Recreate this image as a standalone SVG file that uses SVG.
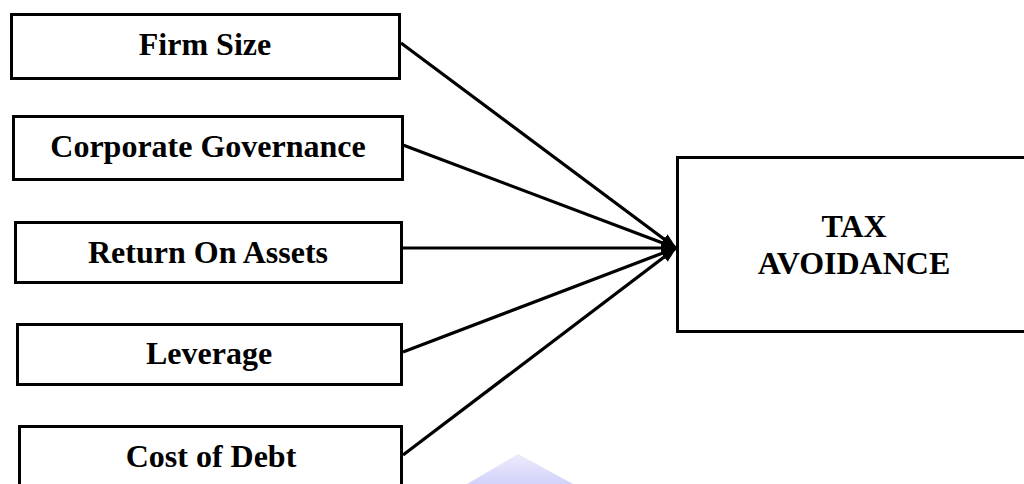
<svg xmlns="http://www.w3.org/2000/svg" width="1024" height="484" viewBox="0 0 1024 484">
<defs>
<style>
.box{fill:#fff;stroke:#000;stroke-width:3}
.lbl{font-family:"Liberation Serif","Times New Roman",serif;font-weight:bold;font-size:32px;fill:#000;text-anchor:middle}
.con{stroke:#000;stroke-width:3.2;fill:none;marker-end:url(#ah)}
</style>
<marker id="ah" markerWidth="16" markerHeight="12" refX="15" refY="6" orient="auto" markerUnits="userSpaceOnUse">
<path d="M0,0 L16,6 L0,12 z" fill="#000"/>
</marker>
<linearGradient id="wm" x1="0" y1="0" x2="0" y2="1">
<stop offset="0" stop-color="#ececfc"/>
<stop offset="1" stop-color="#d2d2fa"/>
</linearGradient>
</defs>
<rect width="1024" height="484" fill="#fff"/>
<polygon points="518,454 573,484 467,484" fill="url(#wm)"/>
<g id="connectors">
<line class="con" x1="401" y1="43" x2="676" y2="248"/>
<line class="con" x1="403" y1="145" x2="676" y2="248"/>
<line class="con" x1="403" y1="248" x2="676" y2="248"/>
<line class="con" x1="403" y1="352" x2="676" y2="248"/>
<line class="con" x1="403" y1="455" x2="676" y2="248"/>
</g>
<g id="firm-size">
<rect class="box" x="11.5" y="14.5" width="388" height="64"/>
<text class="lbl" x="205" y="55">Firm Size</text>
</g>
<g id="corporate-governance">
<rect class="box" x="13.5" y="116.5" width="389" height="63"/>
<text class="lbl" x="208" y="157">Corporate Governance</text>
</g>
<g id="return-on-assets">
<rect class="box" x="15.5" y="222.5" width="386" height="60"/>
<text class="lbl" x="208" y="263">Return On Assets</text>
</g>
<g id="leverage">
<rect class="box" x="17.5" y="324.5" width="384" height="60"/>
<text class="lbl" x="209" y="364">Leverage</text>
</g>
<g id="cost-of-debt">
<rect class="box" x="19.5" y="426.5" width="382" height="80"/>
<text class="lbl" x="211" y="467">Cost of Debt</text>
</g>
<g id="tax-avoidance">
<rect class="box" x="677.5" y="157.5" width="360" height="174"/>
<text class="lbl" x="854" y="237">TAX</text>
<text class="lbl" x="854" y="274">AVOIDANCE</text>
</g>
</svg>
